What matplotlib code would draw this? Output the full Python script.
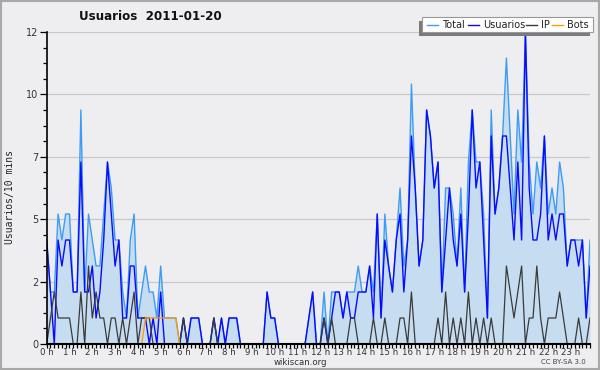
import numpy as np
import matplotlib
matplotlib.use("Agg")
import matplotlib.pyplot as plt
from matplotlib.lines import Line2D
from matplotlib.patches import Rectangle

# users per 10-minute slot, 2011-01-20 (144 slots)
total = [4, 2, 2, 5, 4, 5, 5, 2, 2, 9, 2, 5, 4, 3, 3, 5, 7, 6, 4, 4, 2, 1, 4, 5,
         1, 2, 3, 2, 2, 1, 3, 1, 1, 1, 1, 0, 1, 0, 1, 1, 1, 0, 0, 0, 1, 0, 1, 0,
         1, 1, 1, 0, 0, 0, 0, 0, 0, 0, 2, 1, 1, 0, 0, 0, 0, 0, 0, 0, 0, 1, 2, 0,
         0, 2, 0, 2, 2, 2, 1, 2, 2, 2, 3, 2, 2, 3, 2, 5, 1, 5, 3, 2, 4, 6, 3, 4,
         10, 6, 3, 4, 9, 8, 6, 7, 2, 6, 6, 5, 3, 6, 2, 7, 9, 7, 7, 5, 1, 9, 5, 6,
         8, 11, 8, 5, 9, 7, 12, 7, 5, 7, 6, 8, 5, 6, 5, 7, 6, 3, 4, 4, 4, 4, 1, 4]
usuarios = [4, 2, 0, 4, 3, 4, 4, 2, 2, 7, 2, 2, 3, 1, 2, 4, 7, 5, 3, 4, 1, 1, 3, 3,
            1, 1, 1, 0, 1, 0, 2, 0, 0, 0, 0, 0, 1, 0, 1, 1, 1, 0, 0, 0, 1, 0, 1, 0,
            1, 1, 1, 0, 0, 0, 0, 0, 0, 0, 2, 1, 1, 0, 0, 0, 0, 0, 0, 0, 0, 1, 2, 0,
            0, 1, 0, 1, 2, 2, 1, 2, 1, 1, 2, 2, 2, 3, 1, 5, 1, 4, 3, 2, 4, 5, 2, 4,
            8, 6, 3, 4, 9, 8, 6, 7, 2, 4, 6, 4, 3, 5, 2, 5, 9, 6, 7, 4, 1, 8, 5, 6,
            8, 8, 6, 4, 7, 4, 12, 6, 4, 4, 5, 8, 4, 5, 4, 5, 5, 3, 4, 4, 3, 4, 1, 3]
ip = [0, 1, 2, 1, 1, 1, 1, 0, 0, 2, 0, 3, 1, 2, 1, 1, 0, 1, 1, 0, 1, 0, 1, 2,
      0, 1, 1, 1, 0, 0, 0, 0, 0, 0, 0, 0, 1, 0, 0, 0, 0, 0, 0, 0, 1, 0, 0, 0,
      0, 0, 0, 0, 0, 0, 0, 0, 0, 0, 0, 0, 0, 0, 0, 0, 0, 0, 0, 0, 0, 0, 0, 0,
      0, 1, 0, 1, 0, 0, 0, 0, 1, 1, 0, 0, 0, 0, 1, 0, 0, 1, 0, 0, 0, 1, 1, 0,
      2, 0, 0, 0, 0, 0, 0, 1, 0, 2, 0, 1, 0, 1, 0, 2, 0, 1, 0, 1, 0, 1, 0, 0,
      0, 3, 2, 1, 2, 3, 0, 1, 1, 3, 1, 0, 1, 1, 1, 2, 1, 0, 0, 0, 1, 0, 0, 1]
bots = [0] * 26 + [1] * 9 + [0] * 109

hour_labels = [f"{h} h" for h in range(24)]
ytick_vals = [0, 2.4, 4.8, 7.2, 9.6, 12]
ytick_labels = ["0", "2", "5", "7", "10", "12"]
series_names = ["Total", "Usuarios", "IP", "Bots"]

bg = "#eeeef0"
c_total = "#3d9cf5"
c_fill = "#c6dcf0"
c_users = "#0a0aff"
c_ip = "#3a3a3a"
c_bots = "#ff9a00"
colors = [c_total, c_users, c_ip, c_bots]

W, H = 600, 370


def fx(px):
    return px / W


def fy(py):
    return 1 - py / H


fig = plt.figure(figsize=(6, 3.7), dpi=100, facecolor=bg)
ax = fig.add_axes([fx(46.7), fy(344), (590 - 46.7) / W, 312 / H])
ax.set_facecolor(bg)

x = np.arange(len(total))
ax.fill_between(x, 0, total, color=c_fill, lw=0, zorder=1)
ax.plot(x, total, color=c_total, lw=1.0, zorder=3)
ax.plot(x, usuarios, color=c_users, lw=1.0, zorder=4)
ax.plot(x, ip, color=c_ip, lw=0.9, zorder=5)
ax.plot(x, bots, color=c_bots, lw=0.9, zorder=6)

ax.set_xlim(0, len(total) - 1)
ax.set_ylim(0, 12)

ax.set_yticks(ytick_vals)
ax.set_yticklabels(ytick_labels)
ax.set_yticks(np.arange(0, 12.01, 0.6), minor=True)
ax.set_xticks(np.arange(0, 144, 6))
ax.set_xticklabels(hour_labels)
ax.set_xticks(np.arange(0, 144, 1), minor=True)

ax.grid(axis="y", which="major", color="#c8c8c8", lw=0.9, zorder=0)
ax.set_axisbelow(True)
for s in ["top", "right"]:
    ax.spines[s].set_visible(False)
ax.spines["left"].set_linewidth(1.2)
ax.spines["bottom"].set_linewidth(1.5)
ax.spines["left"].set_zorder(7)
ax.spines["bottom"].set_zorder(7)

ax.tick_params(axis="y", which="major", length=5, width=0.9, pad=1, labelsize=7, labelcolor="#333333")
ax.tick_params(axis="y", which="minor", length=3, width=0.9)
ax.tick_params(axis="x", which="major", length=3, width=0.9, pad=0, labelsize=6.2, labelcolor="#333333")
ax.tick_params(axis="x", which="minor", length=3, width=0.9)

fig.text(fx(150), fy(17), "Usuarios  2011-01-20", fontsize=8.6, fontweight="bold",
         ha="center", va="center", color="#111111")
fig.text(fx(10), fy(197), "Usuarios/10 mins", family="DejaVu Sans Mono", fontsize=7,
         rotation=90, ha="center", va="center", color="#222222")
fig.text(fx(300), fy(362.5), "wikiscan.org", fontsize=6.2, ha="center", va="center", color="#333333")
fig.text(fx(563), fy(362.5), "CC BY-SA 3.0", fontsize=5, ha="center", va="center", color="#444444")

# legend box drawn by hand: shadow down-left, white box, line + label per series
box_l, box_r, box_t, box_b = 421.7, 593.3, 17.3, 32.3
fig.patches.append(Rectangle((fx(box_l - 3), fy(box_b + 4)), (box_r - box_l) / W, (box_b - box_t) / H,
                             transform=fig.transFigure, facecolor="#7a7a7a", edgecolor="none", zorder=19))
fig.patches.append(Rectangle((fx(box_l), fy(box_b)), (box_r - box_l) / W, (box_b - box_t) / H,
                             transform=fig.transFigure, facecolor="white", edgecolor="#999999",
                             lw=0.8, zorder=20))
line_x0 = [426.7, 468.0, 525.7, 552.3]
text_x0 = [442.0, 483.5, 541.5, 567.5]
ly = 24.8
for name, col, lx, tx in zip(series_names, colors, line_x0, text_x0):
    fig.add_artist(Line2D([fx(lx), fx(lx + 11)], [fy(ly), fy(ly)], transform=fig.transFigure,
                          color=col, lw=1.0, zorder=21))
    fig.text(fx(tx), fy(ly), name, fontsize=7, ha="left", va="center", color="#222222", zorder=21)

fig.patches.append(Rectangle((0.0015, 0.002), 0.997, 0.996, transform=fig.transFigure,
                             facecolor="none", edgecolor="#a8a8a8", lw=1.5, zorder=30))

fig.savefig("out.png", dpi=100, facecolor=bg)
